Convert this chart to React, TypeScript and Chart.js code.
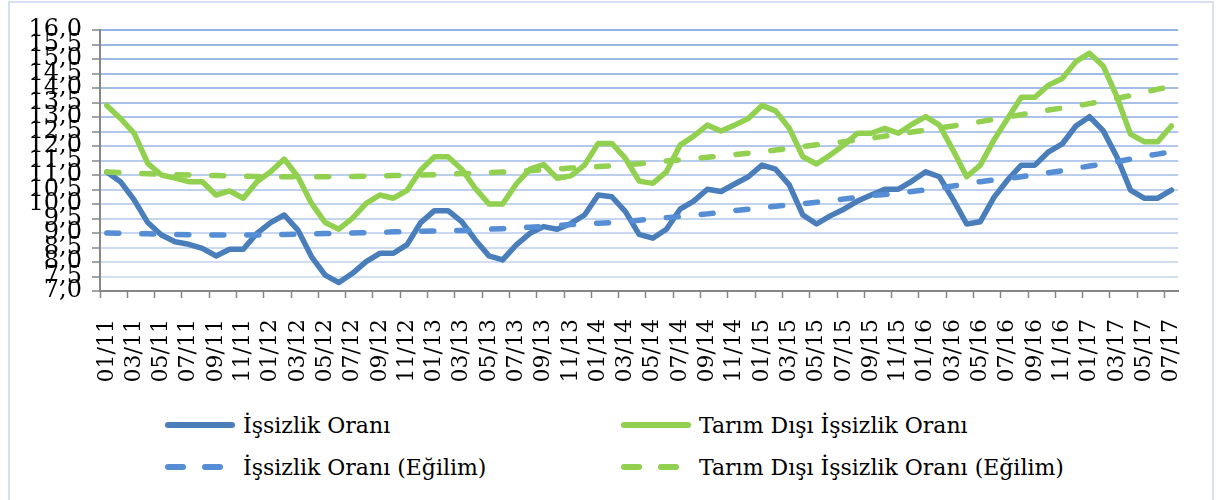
import React, { useEffect, useRef } from "react";
import { Chart, registerables } from "chart.js";

Chart.register(...registerables);

const categories: string[] = [
  "01/11","02/11","03/11","04/11","05/11","06/11","07/11","08/11","09/11","10/11","11/11","12/11",
  "01/12","02/12","03/12","04/12","05/12","06/12","07/12","08/12","09/12","10/12","11/12","12/12",
  "01/13","02/13","03/13","04/13","05/13","06/13","07/13","08/13","09/13","10/13","11/13","12/13",
  "01/14","02/14","03/14","04/14","05/14","06/14","07/14","08/14","09/14","10/14","11/14","12/14",
  "01/15","02/15","03/15","04/15","05/15","06/15","07/15","08/15","09/15","10/15","11/15","12/15",
  "01/16","02/16","03/16","04/16","05/16","06/16","07/16","08/16","09/16","10/16","11/16","12/16",
  "01/17","02/17","03/17","04/17","05/17","06/17","07/17",
];

const issizlik: number[] = [
  11.1, 10.77, 10.14, 9.36, 8.93, 8.7, 8.61, 8.47, 8.21, 8.44, 8.44, 8.99,
  9.36, 9.62, 9.1, 8.18, 7.55, 7.29, 7.61, 8.01, 8.3, 8.3, 8.6, 9.36,
  9.77, 9.77, 9.39, 8.76, 8.21, 8.07, 8.59, 8.99, 9.22, 9.13, 9.33, 9.62,
  10.31, 10.25, 9.74, 8.95, 8.82, 9.13, 9.82, 10.1, 10.51, 10.43, 10.69, 10.94,
  11.34, 11.2, 10.66, 9.62, 9.31, 9.59, 9.82, 10.1, 10.31, 10.51, 10.51, 10.79,
  11.11, 10.94, 10.16, 9.31, 9.39, 10.23, 10.83, 11.34, 11.34, 11.8, 12.07, 12.69,
  13.01, 12.53, 11.63, 10.48, 10.2, 10.2, 10.48,
];

const tarimDisi: number[] = [
  13.4, 12.95, 12.44, 11.4, 11.0, 10.89, 10.77, 10.77, 10.31, 10.45, 10.2, 10.77,
  11.11, 11.55, 10.94, 10.02, 9.36, 9.13, 9.51, 10.02, 10.31, 10.2, 10.47, 11.17,
  11.63, 11.63, 11.2, 10.54, 10.0, 10.0, 10.69, 11.2, 11.36, 10.89, 10.97, 11.34,
  12.09, 12.09, 11.57, 10.79, 10.71, 11.11, 12.03, 12.34, 12.72, 12.52, 12.72, 12.95,
  13.4, 13.21, 12.61, 11.63, 11.38, 11.69, 12.03, 12.44, 12.44, 12.61, 12.44, 12.75,
  13.01, 12.72, 11.86, 10.94, 11.34, 12.21, 12.95, 13.68, 13.68, 14.1, 14.33, 14.91,
  15.2, 14.76, 13.7, 12.41, 12.15, 12.15, 12.69,
];

const issizlikEgilim: number[] = [
  9.0, 8.99, 8.98, 8.97, 8.96, 8.95, 8.94, 8.93, 8.93, 8.93, 8.93, 8.93,
  8.94, 8.95, 8.96, 8.97, 8.98, 8.99, 9.0, 9.01, 9.02, 9.04, 9.05, 9.06,
  9.07, 9.08, 9.09, 9.1, 9.13, 9.15, 9.18, 9.2, 9.23, 9.26, 9.29, 9.32,
  9.34, 9.36, 9.39, 9.44, 9.49, 9.53, 9.57, 9.61, 9.66, 9.71, 9.77, 9.82,
  9.87, 9.92, 9.97, 10.01, 10.06, 10.12, 10.17, 10.23, 10.29, 10.33, 10.38, 10.43,
  10.49, 10.55, 10.62, 10.7, 10.77, 10.83, 10.88, 10.94, 11.01, 11.08, 11.15, 11.23,
  11.31, 11.38, 11.46, 11.55, 11.64, 11.72, 11.8,
];

const tarimDisiEgilim: number[] = [
  11.1, 11.08, 11.06, 11.04, 11.02, 11.01, 11.0, 10.99, 10.98, 10.97, 10.96, 10.95,
  10.95, 10.94, 10.94, 10.94, 10.94, 10.95, 10.95, 10.96, 10.97, 10.98, 10.99, 11.0,
  11.01, 11.03, 11.05, 11.06, 11.08, 11.1, 11.12, 11.15, 11.18, 11.21, 11.24, 11.27,
  11.29, 11.32, 11.35, 11.39, 11.44, 11.48, 11.52, 11.56, 11.61, 11.65, 11.7, 11.75,
  11.8, 11.86, 11.92, 11.98, 12.04, 12.09, 12.15, 12.21, 12.27, 12.34, 12.41, 12.48,
  12.55, 12.62, 12.69, 12.77, 12.84, 12.92, 13.0, 13.08, 13.16, 13.24, 13.31, 13.38,
  13.46, 13.55, 13.64, 13.74, 13.85, 13.96, 14.05,
];

const seriesNames: string[] = [
  "İşsizlik Oranı",
  "Tarım Dışı İşsizlik Oranı",
  "İşsizlik Oranı (Eğilim)",
  "Tarım Dışı İşsizlik Oranı (Eğilim)",
];

const BLUE = "#4a7ebb";
const BLUE_LIGHT = "#558ed5";
const GREEN = "#92d050";
const FONT = "'DejaVu Serif', serif";

function gridColor(v: number): string {
  const t = Math.max(0, Math.min(1, (v - 7) / 9));
  const a = [216, 226, 243];
  const b = [150, 180, 228];
  const c = a.map((x, i) => Math.round(x + (b[i] - x) * t));
  return `rgb(${c[0]},${c[1]},${c[2]})`;
}

function LegendItem({ name, color, dashed }: { name: string; color: string; dashed: boolean }) {
  return (
    <div style={{ display: "flex", alignItems: "center", height: 30 }}>
      <div style={{ width: 70, height: 6, position: "relative", marginRight: 8 }}>
        {dashed ? (
          <>
            <div style={{ position: "absolute", left: 0, top: 0, width: 21, height: 6, borderRadius: 3, background: color }} />
            <div style={{ position: "absolute", left: 37, top: 0, width: 21, height: 6, borderRadius: 3, background: color }} />
          </>
        ) : (
          <div style={{ position: "absolute", left: 0, top: 0, width: 70, height: 6, borderRadius: 3, background: color }} />
        )}
      </div>
      <span style={{ fontFamily: FONT, fontSize: 22, color: "#000", whiteSpace: "nowrap" }}>{name}</span>
    </div>
  );
}

export default function App() {
  const ref = useRef<HTMLCanvasElement | null>(null);

  useEffect(() => {
    document.body.style.margin = "0";
    if (!ref.current) return;
    const chart = new Chart(ref.current, {
      type: "line",
      data: {
        labels: categories,
        datasets: [
          { label: seriesNames[2], data: issizlikEgilim, borderColor: BLUE_LIGHT, borderWidth: 5.5, borderDash: [12, 23], borderCapStyle: "round", pointRadius: 0, tension: 0, order: 0 },
          { label: seriesNames[3], data: tarimDisiEgilim, borderColor: GREEN, borderWidth: 5.5, borderDash: [12, 23], borderCapStyle: "round", pointRadius: 0, tension: 0, order: 0 },
          { label: seriesNames[0], data: issizlik, borderColor: BLUE, borderWidth: 5.5, borderCapStyle: "round", borderJoinStyle: "round", pointRadius: 0, tension: 0, order: 1 },
          { label: seriesNames[1], data: tarimDisi, borderColor: GREEN, borderWidth: 5.5, borderCapStyle: "round", borderJoinStyle: "round", pointRadius: 0, tension: 0, order: 1 },
        ],
      },
      options: {
        animation: false,
        responsive: false,
        devicePixelRatio: 1,
        layout: { padding: { top: 30, right: 30, left: 0, bottom: 0 } },
        plugins: { legend: { display: false }, tooltip: { enabled: false } },
        scales: {
          x: {
            type: "category",
            offset: true,
            afterFit: (s: any) => { s.height = 109; },
            grid: {
              offset: true,
              drawOnChartArea: false,
              drawTicks: true,
              tickLength: 7,
              tickWidth: 1.5,
              tickColor: (ctx: any) => (ctx.index % 2 === 0 ? "#868686" : "rgba(0,0,0,0)"),
            },
            border: { color: "#868686", width: 2 },
            ticks: {
              autoSkip: false,
              minRotation: 90,
              maxRotation: 90,
              padding: 21,
              color: "#000",
              font: { family: FONT, size: 22 },
              callback: (_v: any, i: number) => (i % 2 === 0 ? categories[i] : ""),
            },
          },
          y: {
            min: 7,
            max: 16,
            afterFit: (s: any) => { s.width = 100; },
            grid: {
              color: (ctx: any) => gridColor(ctx.tick ? ctx.tick.value : 7),
              lineWidth: 2,
              tickLength: 8,
              tickColor: "#868686",
              tickWidth: 1.5,
            },
            border: { color: "#868686", width: 2 },
            ticks: {
              stepSize: 0.5,
              autoSkip: false,
              padding: 10,
              color: "#000",
              font: { family: FONT, size: 24 },
              callback: (v: any) => Number(v).toFixed(1).replace(".", ","),
            },
          },
        },
      },
    });
    return () => chart.destroy();
  }, []);

  return (
    <div style={{ position: "relative", width: 1219, height: 500, overflow: "hidden", background: "#fff" }}>
      <div style={{ position: "absolute", left: 8, top: 1, width: 1206, height: 520, border: "2px solid #d6e0f1", boxSizing: "border-box" }} />
      <canvas ref={ref} width={1219} height={400} style={{ position: "absolute", left: 0, top: 0, width: 1219, height: 400 }} />
      <div style={{ position: "absolute", left: 165, top: 410 }}>
        <LegendItem name={seriesNames[0]} color={BLUE} dashed={false} />
      </div>
      <div style={{ position: "absolute", left: 165, top: 452 }}>
        <LegendItem name={seriesNames[2]} color={BLUE_LIGHT} dashed={true} />
      </div>
      <div style={{ position: "absolute", left: 621, top: 410 }}>
        <LegendItem name={seriesNames[1]} color={GREEN} dashed={false} />
      </div>
      <div style={{ position: "absolute", left: 621, top: 452 }}>
        <LegendItem name={seriesNames[3]} color={GREEN} dashed={true} />
      </div>
    </div>
  );
}
